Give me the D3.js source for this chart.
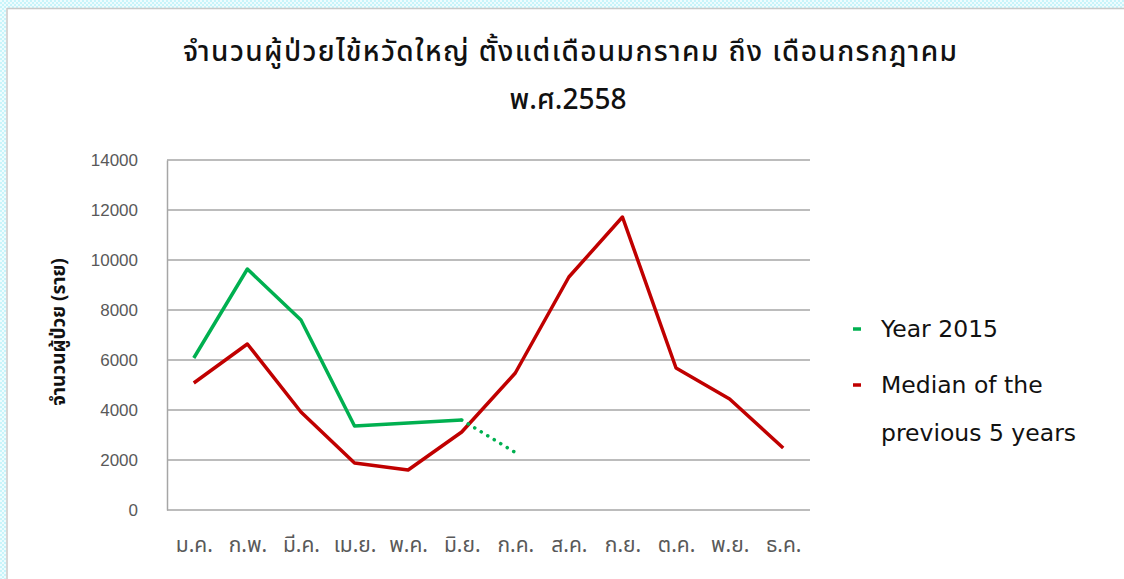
<!DOCTYPE html>
<html>
<head>
<meta charset="utf-8">
<script src="https://cdn.jsdelivr.net/npm/d3@7"></script>
<style>
  body { margin: 0; background: #fff; }
  svg text { font-family: Tahoma, "Noto Sans Thai", "Noto Sans", Arial, sans-serif; }
</style>
</head>
<body>
<div id="chart"></div>
<script>
var svgWidth = 1124;
var svgHeight = 579;

// data
var months = ["ม.ค.", "ก.พ.", "มี.ค.", "เม.ย.", "พ.ค.", "มิ.ย.", "ก.ค.", "ส.ค.", "ก.ย.", "ต.ค.", "พ.ย.", "ธ.ค."];
var year2015 = [6080, 9640, 7600, 3360, 3480, 3600];
var year2015Forecast = [3600, 2300]; // dotted part, มิ.ย. -> ก.ค.
var median5y = [5080, 6640, 3920, 1880, 1600, 3120, 5480, 9320, 11720, 5680, 4440, 2480];
var yTicks = [0, 2000, 4000, 6000, 8000, 10000, 12000, 14000];
var titleLines = ["จำนวนผู้ป่วยไข้หวัดใหญ่ ตั้งแต่เดือนมกราคม ถึง เดือนกรกฎาคม", "พ.ศ.2558"];
var yLabel = "จำนวนผู้ป่วย (ราย)";
var legendItems = [
  { lines: ["Year 2015"], color: "#00b050" },
  { lines: ["Median of the", "previous 5 years"], color: "#c00000" }
];

var margin = { top: 160, left: 167, right: 314, bottom: 69 };
var width = svgWidth - margin.left - margin.right;
var height = svgHeight - margin.top - margin.bottom;

var svg = d3.select("#chart").append("svg")
  .attr("width", svgWidth)
  .attr("height", svgHeight);

// light cyan checkered frame on top and left
var defs = svg.append("defs");
var pat = defs.append("pattern")
  .attr("id", "checks")
  .attr("width", 4).attr("height", 4)
  .attr("patternUnits", "userSpaceOnUse");
pat.append("rect").attr("width", 4).attr("height", 4).attr("fill", "#c8f4fa");
pat.append("rect").attr("width", 2).attr("height", 2).attr("fill", "#eefcfe");
pat.append("rect").attr("x", 2).attr("y", 2).attr("width", 2).attr("height", 2).attr("fill", "#eefcfe");

svg.append("rect").attr("x", 0).attr("y", 0).attr("width", svgWidth).attr("height", 8).attr("fill", "url(#checks)");
svg.append("rect").attr("x", 0).attr("y", 0).attr("width", 6).attr("height", svgHeight).attr("fill", "url(#checks)");
svg.append("line").attr("x1", 7).attr("x2", svgWidth).attr("y1", 8.5).attr("y2", 8.5)
  .attr("stroke", "#c8c8c8").attr("stroke-width", 1.5);
svg.append("line").attr("x1", 7).attr("x2", 7).attr("y1", 8).attr("y2", svgHeight)
  .attr("stroke", "#c8c8c8").attr("stroke-width", 1.5);

// title
svg.append("text")
  .attr("x", 570)
  .attr("y", 61)
  .attr("text-anchor", "middle")
  .attr("font-size", 28)
  .attr("font-weight", 500)
  .attr("fill", "#111")
  .attr("textLength", 774)
  .attr("lengthAdjust", "spacing")
  .text(titleLines[0]);

svg.append("text")
  .attr("x", 568)
  .attr("y", 109)
  .attr("text-anchor", "middle")
  .attr("font-size", 28)
  .attr("font-weight", 500)
  .attr("fill", "#111")
  .text(titleLines[1]);

var chartGroup = svg.append("g")
  .attr("transform", `translate(${margin.left}, ${margin.top})`);

var xScale = d3.scalePoint()
  .domain(months)
  .range([0, width])
  .padding(0.5);

var yScale = d3.scaleLinear()
  .domain([0, 14000])
  .range([height, 0]);

// gridlines
chartGroup.append("g")
  .selectAll("line")
  .data(yTicks)
  .enter()
  .append("line")
  .attr("x1", 0)
  .attr("x2", width)
  .attr("y1", d => yScale(d))
  .attr("y2", d => yScale(d))
  .attr("stroke", "#a6a6a6")
  .attr("stroke-width", 1.5);

// y axis
var leftAxis = d3.axisLeft(yScale).tickValues(yTicks).tickSize(0).tickPadding(29).tickFormat(d3.format("d"));
var yAxis = chartGroup.append("g").call(leftAxis);
yAxis.select(".domain").attr("stroke", "#a6a6a6").attr("stroke-width", 1.5);
yAxis.selectAll("text")
  .attr("font-size", 17)
  .attr("fill", "#595959")
  .style("font-family", "Arial, 'Liberation Sans', sans-serif");

// x axis labels
var bottomAxis = d3.axisBottom(xScale).tickSize(0).tickPadding(27);
var xAxis = chartGroup.append("g")
  .attr("transform", `translate(0, ${height})`)
  .call(bottomAxis);
xAxis.select(".domain").remove();
xAxis.selectAll("text")
  .attr("font-size", 21)
  .attr("fill", "#595959");

// y axis title
svg.append("text")
  .attr("transform", "translate(65, 332) rotate(-90)")
  .attr("text-anchor", "middle")
  .attr("font-size", 19)
  .attr("font-weight", "bold")
  .attr("fill", "#111")
  .text(yLabel);

var line = d3.line()
  .x((d, i) => xScale(months[i]))
  .y(d => yScale(d));

chartGroup.append("path")
  .datum(median5y)
  .attr("d", line)
  .attr("fill", "none")
  .attr("stroke", "#c00000")
  .attr("stroke-width", 3.5)
  .attr("stroke-linejoin", "round");

chartGroup.append("path")
  .datum(year2015)
  .attr("d", line)
  .attr("fill", "none")
  .attr("stroke", "#00b050")
  .attr("stroke-width", 3.5)
  .attr("stroke-linejoin", "round");

var dotLine = d3.line()
  .x((d, i) => xScale(months[5 + i]))
  .y(d => yScale(d));

chartGroup.append("path")
  .datum(year2015Forecast)
  .attr("d", dotLine)
  .attr("fill", "none")
  .attr("stroke", "#00b050")
  .attr("stroke-width", 3.5)
  .attr("stroke-linecap", "round")
  .attr("stroke-dasharray", "0.1 7.5");

// legend
var legend = svg.append("g").attr("transform", "translate(853, 0)");
var legendY = [337, 393];
legendItems.forEach(function(item, i) {
  legend.append("line")
    .attr("x1", 0).attr("x2", 8)
    .attr("y1", legendY[i] - 8).attr("y2", legendY[i] - 8)
    .attr("stroke", item.color)
    .attr("stroke-width", 3.5);
  item.lines.forEach(function(t, j) {
    legend.append("text")
      .attr("x", 28)
      .attr("y", legendY[i] + j * 48)
      .attr("font-size", 23.5)
      .attr("fill", "#111")
      .style("font-family", "'DejaVu Sans', Verdana, sans-serif")
      .text(t);
  });
});
</script>
</body>
</html>
